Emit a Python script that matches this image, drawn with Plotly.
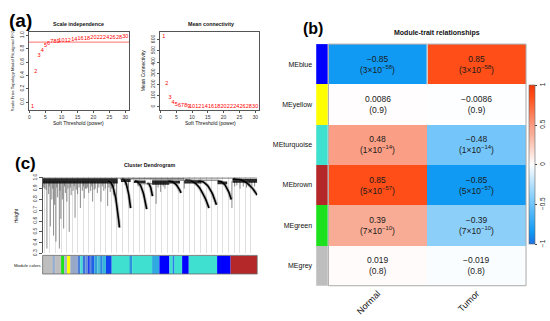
import plotly.graph_objects as go

W, H = 550, 321
FONT = "Liberation Sans, Arial, Helvetica, sans-serif"

# ---------------- data: panel (a) soft-threshold analysis ----------------
powers = [1, 2, 3, 4, 5, 6, 7, 8, 9, 10, 12, 14, 16, 18, 20, 22, 24, 26, 28, 30]
scale_free_r2 = [-0.07, 0.455, 0.70, 0.78, 0.846, 0.88, 0.905, 0.91, 0.91, 0.93,
                 0.93, 0.944, 0.95, 0.95, 0.965, 0.965, 0.975, 0.97, 0.975, 0.985]
mean_connectivity = [629, 205, 82, 38, 23, 14, 10, 7, 5, 4,
                     3, 2.5, 2, 2, 1.5, 1.5, 1.5, 1.5, 1.5, 1.5]
r2_cutoff = 0.9
x_ticks_a = [0, 5, 10, 15, 20, 25, 30]
y_ticks_r2 = [0.0, 0.2, 0.4, 0.6, 0.8, 1.0]
y_ticks_k = [0, 100, 200, 300, 400, 500, 600]

# ---------------- data: panel (b) module-trait relationships ----------------
modules = ["MEblue", "MEyellow", "MEturquoise", "MEbrown", "MEgreen", "MEgrey"]
module_colors = ["#0000FF", "#FFFF00", "#40E0D0", "#B5282A", "#1EE11E", "#BEBEBE"]
traits = ["Normal", "Tumor"]
cor_normal = [-0.85, 0.0086, 0.48, 0.85, 0.39, 0.019]
cor_tumor = [0.85, -0.0086, -0.48, -0.85, -0.39, -0.019]
p_values = [3e-58, 0.9, 1e-14, 5e-57, 7e-10, 0.8]
cbar_ticks = [-1, -0.5, 0, 0.5, 1]

# ---------------- data: panel (c) cluster dendrogram (read approx.) ----------------
dendro_ticks = [0.3, 0.4, 0.5, 0.6, 0.7, 0.8, 0.9, 1.0]
leaf_u = [1.0, 2.0, 2.8, 3.6, 4.3, 5.1, 5.6, 6.2, 7.0, 7.8, 8.5, 9.2, 9.8, 10.6, 11.3,
          12.4, 13.3, 14.2, 15.1, 16.3, 17.6, 18.5, 19.4, 20.5, 21.5, 22.4, 23.3, 24.5,
          25.5, 27.2, 28.5, 30.3, 31.5, 33.0, 34.5, 40.0, 52.9, 55.0, 57.0, 66.0,
          88.2, 89.5, 92.0, 95.0, 97.5,
          0.5, 1.6, 3.1, 4.7, 6.6, 8.1, 10.2, 11.8, 12.9, 14.7, 15.7, 17.0, 19.0, 20.0,
          21.0, 22.9, 24.0, 26.2, 27.8, 29.2, 30.9, 32.2, 33.6, 38.5, 44.5, 53.8, 56.2,
          90.5, 93.5, 96.3, 98.8]
leaf_h = [0.90, 0.345, 0.85, 0.55, 0.80, 0.465, 0.75, 0.41, 0.82, 0.345, 0.62, 0.80, 0.53,
          0.86, 0.78, 0.50, 0.84, 0.88, 0.63, 0.85, 0.72, 0.88, 0.81, 0.90, 0.86, 0.88,
          0.78, 0.90, 0.86, 0.78, 0.88, 0.74, 0.87, 0.84, 0.80, 0.90, 0.76, 0.87, 0.90,
          0.90, 0.72, 0.92, 0.90, 0.91, 0.92,
          0.91, 0.89, 0.92, 0.90, 0.91, 0.88, 0.92, 0.90, 0.91, 0.92, 0.89, 0.91, 0.92,
          0.90, 0.91, 0.92, 0.89, 0.91, 0.92, 0.90, 0.91, 0.90, 0.92, 0.93, 0.92, 0.91,
          0.92, 0.93, 0.92, 0.93, 0.92]
arc_u0 = [30.5, 37.0, 43.0, 48.8, 58.5, 66.5, 72.5, 81.6, 88.6]
arc_u1 = [35.8, 41.0, 48.5, 51.2, 64.5, 77.5, 81.0, 87.9, 100.0]
arc_h0 = [0.97, 0.99, 0.97, 0.95, 0.97, 0.98, 0.97, 0.97, 0.99]
arc_h1 = [0.54, 0.72, 0.71, 0.83, 0.86, 0.72, 0.75, 0.80, 0.84]
band_u0 = [0.0, 36.5, 42.5, 51.0, 58.5, 66.0, 81.5, 88.5]
band_u1 = [35.0, 41.0, 48.0, 59.0, 64.0, 74.0, 86.0, 100.0]
band_top = [0.995, 0.99, 0.975, 0.975, 0.97, 0.978, 0.965, 0.99]
band_bot = [0.948, 0.962, 0.952, 0.935, 0.948, 0.948, 0.94, 0.955]
merge_u0 = [0.0, 44.0, 51.0, 36.0]
merge_u1 = [100.0, 51.0, 81.6, 66.0]
merge_h = [0.998, 0.945, 0.978, 0.99]

seg_start = [0, 5.1, 5.8, 8.6, 10.1, 11.4, 12.9, 16.3, 17.6, 18.7, 20, 21, 22, 23.2, 24.1,
             25.5, 26.8, 28, 29.5, 32.2, 40.9, 41.7, 51.0, 54.4, 59.1, 60.6, 61.4, 65.0,
             68.1, 81.3, 87.6]
seg_end = seg_start[1:] + [100]
seg_color = ["#BEBEBE", "#9AB0D0", "#BEBEBE", "#1EE11E", "#A8B4CC", "#FFFF00", "#98A8C8",
             "#4A7ED8", "#40E0D0", "#3A70E0", "#6090D0", "#2040F0", "#5A8AD8", "#2060E8",
             "#30A0D8", "#4AC0D8", "#2A88E0", "#38B8D8", "#1040F0", "#40E0D0", "#3090E0",
             "#40E0D0", "#30A8E0", "#0000FF", "#40E0D0", "#2080E8", "#40E0D0", "#0000FF",
             "#40E0D0", "#0000FF", "#B5282A"]


def px(x):
    return x / W


def py(y):
    return 1 - y / H


fig = go.Figure()

# ---- (a) scale independence ----
fig.add_trace(go.Scatter(x=powers, y=scale_free_r2, mode="text", text=[str(p) for p in powers],
                         textfont=dict(color="#FF0000", size=5.5, family=FONT),
                         xaxis="x", yaxis="y", hoverinfo="skip"))
fig.add_shape(type="line", xref="x domain", x0=0, x1=1, yref="y", y0=r2_cutoff, y1=r2_cutoff,
              line=dict(color="rgba(255,0,0,0.45)", width=1.3))
# ---- (a) mean connectivity ----
fig.add_trace(go.Scatter(x=powers, y=mean_connectivity, mode="text", text=[str(p) for p in powers],
                         textfont=dict(color="#FF0000", size=5.5, family=FONT),
                         xaxis="x2", yaxis="y2", hoverinfo="skip"))

# ---- (c) dendrogram ----
lx, ly = [], []
for u, h in zip(leaf_u, leaf_h):
    lx += [u, u, None]
    ly += [0.97, h, None]
fig.add_trace(go.Scatter(x=lx, y=ly, mode="lines", line=dict(color="#5a5a5a", width=0.7),
                         xaxis="x3", yaxis="y3", hoverinfo="skip"))
bx, by = [], []
for u0, u1, t, b in zip(band_u0, band_u1, band_top, band_bot):
    bx += [u0, u1, u1, u0, u0, None]
    by += [b, b, t, t, b, None]
fig.add_trace(go.Scatter(x=bx, y=by, mode="lines", fill="toself", fillcolor="rgba(10,10,10,0.88)",
                         line=dict(width=0), xaxis="x3", yaxis="y3", hoverinfo="skip"))
ax, ay = [], []
for u0, u1, h0, h1 in zip(arc_u0, arc_u1, arc_h0, arc_h1):
    for k in range(21):
        t = k / 20
        ax.append(u0 + (u1 - u0) * t)
        ay.append(h0 - (h0 - h1) * t ** 2.5)
    ax.append(None)
    ay.append(None)
fig.add_trace(go.Scatter(x=ax, y=ay, mode="lines", line=dict(color="rgba(90,90,90,0.35)", width=3.5),
                         xaxis="x3", yaxis="y3", hoverinfo="skip"))
fig.add_trace(go.Scatter(x=ax, y=ay, mode="lines", line=dict(color="#000000", width=1.6),
                         xaxis="x3", yaxis="y3", hoverinfo="skip"))
mx, my = [], []
for u0, u1, h in zip(merge_u0, merge_u1, merge_h):
    mx += [u0, u1, None]
    my += [h, h, None]
fig.add_trace(go.Scatter(x=mx, y=my, mode="lines", line=dict(color="#444444", width=0.8),
                         xaxis="x3", yaxis="y3", hoverinfo="skip"))

# module colour bar
fig.add_trace(go.Bar(x=[(s + e) / 2 for s, e in zip(seg_start, seg_end)],
                     y=[1] * len(seg_start), width=[e - s for s, e in zip(seg_start, seg_end)],
                     base=0, marker=dict(color=seg_color, line=dict(width=0)),
                     xaxis="x4", yaxis="y4", hoverinfo="skip"))
fig.add_shape(type="rect", xref="x4 domain", yref="y4 domain", x0=0, x1=1, y0=0, y1=1,
              line=dict(color="#666666", width=0.8))

# ---- (b) heatmap ----
scale = [[0.0, "#1C6FE0"], [0.075, "#109AF4"], [0.26, "#74C6FA"], [0.305, "#8CD0FA"],
         [0.5, "#FFFFFF"], [0.695, "#F9AC95"], [0.74, "#FA9F85"], [0.925, "#FF4E18"],
         [1.0, "#F0380C"]]
zmat = [[a, b] for a, b in zip(cor_normal, cor_tumor)]
rows = list(range(len(modules)))
fig.add_trace(go.Heatmap(
    z=zmat, x=[0, 1], y=rows, zmin=-1, zmax=1, colorscale=scale, xaxis="x5", yaxis="y5",
    hoverinfo="skip",
    colorbar=dict(x=px(528.5), xanchor="left", xpad=0, y=py(164.5), yanchor="middle", ypad=0,
                  len=159, lenmode="pixels", thickness=6, thicknessmode="pixels",
                  outlinewidth=0.6, outlinecolor="#666666", tickvals=cbar_ticks,
                  ticktext=[("−" + str(abs(v)) if v < 0 else str(v)) for v in cbar_ticks],
                  ticks="outside", ticklen=2, tickwidth=0.6, tickcolor="#444444",
                  tickangle=-90, tickfont=dict(size=6.5, color="#222222", family=FONT))))
fig.add_trace(go.Heatmap(
    z=[[i] for i in rows], x=[0], y=rows, zmin=0, zmax=len(rows) - 1, showscale=False,
    colorscale=[[i / (len(rows) - 1), c] for i, c in enumerate(module_colors)],
    xaxis="x6", yaxis="y5", hoverinfo="skip"))
fig.add_shape(type="rect", xref="x5 domain", yref="y5 domain", x0=0, x1=1, y0=0, y1=1,
              line=dict(color="#AAAAAA", width=1))
fig.add_shape(type="line", xref="x5", yref="y5", x0=0.5, x1=0.5, y0=-0.5, y1=0.5,
              line=dict(color="#D0D0D0", width=1.5))


def fmt_cor(v):
    return f"{v:.2g}".replace("-", "−")


def fmt_p(p):
    if p < 1e-3:
        mant, ex = f"{p:.0e}".split("e")
        return f"{mant}×10<sup>−{abs(int(ex))}</sup>"
    return f"{p:.1g}"


annotations = []
for i in rows:
    for j, v in enumerate([cor_normal[i], cor_tumor[i]]):
        annotations.append(dict(x=j, y=i, xref="x5", yref="y5", showarrow=False,
                                text=f"{fmt_cor(v)}<br>({fmt_p(p_values[i])})",
                                font=dict(size=8.5, color="#1a1a1a", family=FONT)))


def note(text, x, y, size, bold=False, angle=0, color="#111111"):
    annotations.append(dict(x=px(x), y=py(y), xref="paper", yref="paper", showarrow=False,
                            text=(f"<b>{text}</b>" if bold else text), textangle=angle,
                            xanchor="center", yanchor="middle",
                            font=dict(size=size, color=color, family=FONT)))


note("(a)", 19.5, 17, 19, bold=True, color="#000000")
note("(b)", 312.5, 25.3, 16, bold=True, color="#000000")
note("(c)", 25, 163, 17, bold=True, color="#000000")
note("Scale independence", 78, 20, 5.3, bold=True)
note("Mean connectivity", 210, 20, 5.3, bold=True)
note("Soft Threshold (power)", 78, 122, 5)
note("Soft Threshold (power)", 210, 122, 5)
note("Scale Free Topology Model Fit,signed R^2", 11.7, 68, 4.3, angle=-90)
note("Mean Connectivity", 142, 68, 5, angle=-90)
note("Cluster Dendrogram", 149, 165, 5.3, bold=True)
note("Height", 15, 216, 5, angle=-90)
note("Module colors", 27, 267, 4.3)
note("Module-trait relationships", 437, 30, 7, bold=True)

rbox = dict(showline=True, mirror=True, linecolor="#555555", linewidth=0.8, ticks="outside",
            ticklen=2.5, tickwidth=0.6, tickcolor="#555555", showgrid=False, zeroline=False,
            tickfont=dict(size=5, color="#333333", family=FONT))
hidden = dict(visible=False, showgrid=False, zeroline=False)

fig.update_layout(
    width=W, height=H, margin=dict(l=0, r=0, t=0, b=0), showlegend=False,
    paper_bgcolor="white", plot_bgcolor="white", font=dict(family=FONT),
    annotations=annotations,
    xaxis=dict(domain=[px(28), px(128.3)], range=[-0.16, 31.16], tickvals=x_ticks_a,
               anchor="y", **rbox),
    yaxis=dict(domain=[py(108.3), py(28.3)], range=[-0.117, 1.057], tickvals=y_ticks_r2,
               tickformat=".1f", tickangle=-90, anchor="x", **rbox),
    xaxis2=dict(domain=[px(159.3), px(258.3)], range=[-0.16, 31.16], tickvals=x_ticks_a,
                anchor="y2", **rbox),
    yaxis2=dict(domain=[py(108.3), py(28.3)], range=[-28, 672], tickvals=y_ticks_k,
                tickangle=-90, anchor="x2", **rbox),
    xaxis3=dict(domain=[px(41.7), px(256.7)], range=[0, 100], anchor="y3", showgrid=True,
                gridcolor="#E0E0E0", gridwidth=0.6, tick0=0.8, dtick=2.6, showticklabels=False,
                ticks="", zeroline=False, showline=False),
    yaxis3=dict(domain=[py(255), py(177.2)], range=[0.3, 1.0045], tickvals=dendro_ticks,
                tickformat=".1f", tickangle=-90, anchor="x3", showline=True, mirror=False,
                linecolor="#555555", linewidth=0.8, ticks="outside", ticklen=2.5, tickwidth=0.6,
                tickcolor="#555555", showgrid=False, zeroline=False,
                tickfont=dict(size=5, color="#333333", family=FONT)),
    xaxis4=dict(domain=[px(41.7), px(256.7)], range=[0, 100], anchor="y4", **hidden),
    yaxis4=dict(domain=[py(276), py(257)], range=[0, 1], anchor="x4", **hidden),
    xaxis5=dict(domain=[px(328), px(526)], range=[-0.5, 1.5], anchor="y5", tickvals=[0, 1],
                ticktext=traits, tickangle=-45, ticks="", showgrid=False, zeroline=False,
                showline=False, tickfont=dict(size=9, color="#111111", family=FONT)),
    yaxis5=dict(domain=[py(288), py(41)], range=[len(rows) - 0.5, -0.5], anchor="x6",
                tickvals=rows, ticktext=modules, ticks="", showgrid=False, zeroline=False,
                showline=False, ticklabelstandoff=3,
                tickfont=dict(size=7, color="#111111", family=FONT)),
    xaxis6=dict(domain=[px(315.7), px(327.3)], range=[-0.5, 0.5], anchor="y5", **hidden),
)

fig.write_html("out.html", config={"displayModeBar": False},
               post_script="document.body.style.margin='0px';document.body.style.overflow='hidden';")
